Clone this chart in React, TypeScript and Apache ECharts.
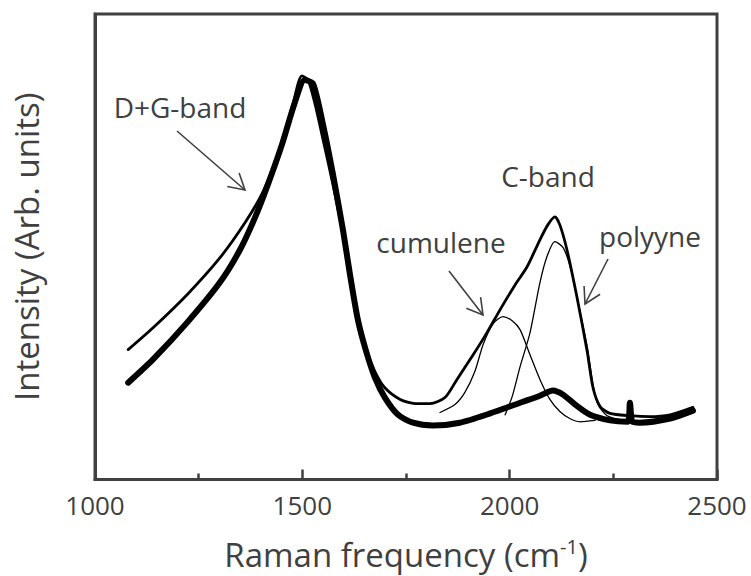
import React, { useEffect, useRef } from 'react';
import * as echarts from 'echarts';

// Raman frequency (cm^-1) vs intensity (arb. units)
const specA: [number, number][] = [
  [1080, 27.9], [1140, 32.6], [1222, 39.7], [1301, 47.6], [1362, 55.2], [1405, 61.8],
  [1446, 70.8], [1477, 80.5], [1499, 86.7], [1514, 85.8], [1531, 80.5], [1550, 73.0],
  [1574, 63.3], [1598, 52.6], [1615, 42.9], [1634, 34.3], [1654, 27.9], [1675, 23.2],
  [1699, 19.7], [1736, 17.2], [1772, 16.3], [1808, 16.3], [1844, 17.6], [1873, 21.5],
  [1912, 26.8], [1945, 31.5], [1977, 36.5], [2013, 41.8], [2042, 45.7], [2073, 51.5],
  [2092, 54.7], [2109, 56.4], [2121, 54.7], [2138, 49.4], [2162, 39.3], [2187, 27.5],
  [2201, 19.7], [2218, 15.7], [2242, 14.2], [2290, 13.7], [2338, 13.5], [2387, 13.9],
  [2442, 15.5],
];

const specB: [number, number][] = [
  [1080, 20.8], [1140, 25.8], [1222, 33.7], [1301, 42.3], [1350, 49.4], [1386, 56.3],
  [1417, 63.4], [1451, 72.0], [1482, 81.0], [1506, 85.8], [1526, 85.0], [1550, 76.2],
  [1574, 65.5], [1598, 53.6], [1615, 44.0], [1634, 34.3], [1654, 27.5], [1675, 21.9],
  [1699, 17.6], [1731, 13.9], [1767, 12.2], [1815, 11.6], [1880, 12.2], [1953, 14.2],
  [2032, 16.7], [2073, 18.0], [2104, 19.1], [2129, 18.2], [2158, 16.1], [2194, 13.9],
  [2242, 12.7], [2284, 12.4], [2290, 16.5], [2296, 12.4], [2314, 12.2], [2387, 13.1],
  [2442, 14.8],
];

const cumuleneFit: [number, number][] = [
  [1832, 14.4], [1868, 16.1], [1892, 18.7], [1916, 23.2], [1936, 29.0], [1960, 33.5],
  [1984, 35.0], [2006, 34.1], [2025, 32.2], [2049, 26.8], [2073, 21.5], [2097, 17.2],
  [2121, 14.6], [2145, 13.1], [2170, 12.4], [2206, 12.7],
];

const polyyneFit: [number, number][] = [
  [1989, 13.9], [2006, 17.8], [2025, 24.2], [2049, 31.5], [2073, 42.3], [2090, 47.9],
  [2109, 51.1], [2129, 49.8], [2146, 45.7], [2162, 39.3], [2187, 28.5], [2201, 20.4],
  [2213, 16.1], [2235, 13.7], [2266, 12.9],
];

const xMin = 1000;
const xMax = 2500;
const xInterval = 500;

const FONT = '"Open Sans", "Noto Sans", sans-serif';
const TEXT = '#404040';

function arrow(x1: number, y1: number, x2: number, y2: number) {
  const dx = x2 - x1;
  const dy = y2 - y1;
  const len = Math.hypot(dx, dy);
  const ux = dx / len;
  const uy = dy / len;
  const h = 18;
  const a = Math.PI / 6;
  const w1 = [x2 - h * (ux * Math.cos(a) - uy * Math.sin(a)), y2 - h * (ux * Math.sin(a) + uy * Math.cos(a))];
  const w2 = [x2 - h * (ux * Math.cos(a) + uy * Math.sin(a)), y2 - h * (-ux * Math.sin(a) + uy * Math.cos(a))];
  return [
    { type: 'line', shape: { x1, y1, x2, y2 }, style: { stroke: TEXT, lineWidth: 1.6 } },
    { type: 'polyline', shape: { points: [w1, [x2, y2], w2] }, style: { stroke: TEXT, lineWidth: 1.6, fill: null } },
  ];
}

function label(text: string, x: number, y: number) {
  return {
    type: 'text',
    x,
    y,
    style: { text, fill: TEXT, font: `28px ${FONT}`, textAlign: 'center', textVerticalAlign: 'middle' },
  };
}

export default function App() {
  const ref = useRef<HTMLDivElement>(null);
  useEffect(() => {
    const chart = echarts.init(ref.current!, null, { renderer: 'svg' });
    const lineSeries = (data: [number, number][], width: number) => ({
      type: 'line',
      data,
      showSymbol: false,
      smooth: 0.25,
      lineStyle: { color: '#000', width, cap: 'round', join: 'round' },
      itemStyle: { color: '#000' },
    });
    chart.setOption({
      animation: false,
      grid: { left: 95, right: 34, top: 14, bottom: 96, show: true, borderColor: TEXT, borderWidth: 3 },
      xAxis: {
        type: 'value',
        min: xMin,
        max: xMax,
        interval: xInterval,
        axisLine: { lineStyle: { color: TEXT, width: 3 } },
        axisTick: { inside: true, length: 10, lineStyle: { color: TEXT, width: 2.5 } },
        minorTick: { show: true, splitNumber: 2, length: 6, lineStyle: { color: TEXT, width: 2.5 } },
        splitLine: { show: false },
        axisLabel: { fontSize: 26, color: TEXT, margin: 12, fontFamily: FONT, formatter: (v: number) => String(v) },
        name: 'Raman frequency (cm{sup|-1})',
        nameLocation: 'middle',
        nameGap: 57,
        nameTextStyle: {
          fontSize: 33,
          color: TEXT,
          fontFamily: FONT,
          rich: { sup: { fontSize: 20, color: TEXT, fontFamily: FONT, verticalAlign: 'top', padding: [0, 0, 16, 0] } },
        },
      },
      yAxis: {
        type: 'value',
        min: 0,
        max: 100,
        axisLine: { show: true, lineStyle: { color: TEXT, width: 3 } },
        axisTick: { show: false },
        axisLabel: { show: false },
        splitLine: { show: false },
        name: 'Intensity (Arb. units)',
        nameLocation: 'middle',
        nameGap: 52,
        nameTextStyle: { fontSize: 33, color: TEXT, fontFamily: FONT },
      },
      series: [
        lineSeries(specB, 6),
        lineSeries(specA, 2.8),
        lineSeries(cumuleneFit, 1.3),
        lineSeries(polyyneFit, 1.3),
      ],
      graphic: [
        label('D+G-band', 180, 107),
        label('C-band', 548, 176),
        label('cumulene', 441, 242),
        label('polyyne', 650, 236),
        ...arrow(177, 131, 245, 190),
        ...arrow(449, 271, 483, 315),
        ...arrow(608, 259, 585, 304),
      ],
    });
    return () => chart.dispose();
  }, []);
  return <div ref={ref} style={{ position: 'absolute', left: 0, top: 0, width: 751, height: 576 }} />;
}
